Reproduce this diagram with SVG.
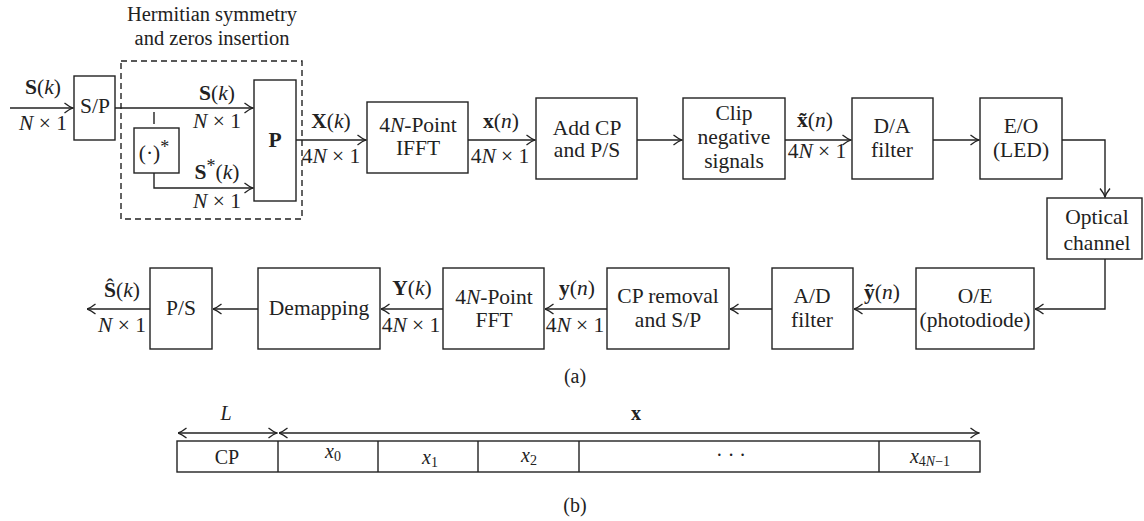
<svg xmlns="http://www.w3.org/2000/svg" width="1144" height="521" viewBox="0 0 1144 521">
<defs>
<marker id="arr" viewBox="0 0 10 12" refX="9.5" refY="6" markerWidth="10" markerHeight="12" markerUnits="userSpaceOnUse" orient="auto-start-reverse">
<path d="M1,1 Q6,5 9.5,6 Q6,7 1,11" fill="none" stroke="#222" stroke-width="1.3"/>
</marker>
</defs>
<style>
text{font-family:"Liberation Serif","Times New Roman",serif;font-size:21.5px;fill:#222;text-anchor:middle}
.box{fill:#fff;stroke:#222;stroke-width:1.4}
.c{fill:none;stroke:#222;stroke-width:1.4}
.a{marker-end:url(#arr)}
.d{marker-start:url(#arr);marker-end:url(#arr)}
.dash{fill:none;stroke:#222;stroke-width:1.4;stroke-dasharray:6,4}
.b{font-weight:bold}
.i{font-style:italic}
.s{font-size:20px}
.sub{font-size:14px}
.t{font-size:20.5px}
</style>

<g id="hermitian">
<rect class="dash" x="121" y="61" width="181" height="158"/>
<text class="t" x="212" y="21">Hermitian symmetry</text>
<text class="t" x="212" y="45">and zeros insertion</text>
</g>

<g id="sp"><rect class="box" x="74" y="76" width="41" height="64"/><text x="95" y="113">S/P</text></g>
<g id="conj"><rect class="box" x="134" y="128" width="45" height="45"/><text x="154" y="160">(·)<tspan dy="-7" font-size="18">*</tspan></text></g>
<g id="p"><rect class="box" x="254" y="80" width="42" height="121"/><text class="b" x="275" y="147">P</text></g>
<g id="ifft"><rect class="box" x="367" y="102" width="101" height="71"/><text x="418" y="132">4<tspan class="i">N</tspan>-Point</text><text x="418" y="155">IFFT</text></g>
<g id="addcp"><rect class="box" x="536" y="98" width="101" height="81"/><text x="587" y="135">Add CP</text><text x="587" y="157">and P/S</text></g>
<g id="clip"><rect class="box" x="683" y="98" width="102" height="81"/><text x="734" y="120">Clip</text><text x="734" y="144">negative</text><text x="734" y="168">signals</text></g>
<g id="da"><rect class="box" x="852" y="98" width="81" height="81"/><text x="892" y="133">D/A</text><text x="892" y="157">filter</text></g>
<g id="eo"><rect class="box" x="980" y="98" width="82" height="81"/><text x="1021" y="133">E/O</text><text x="1021" y="157">(LED)</text></g>
<g id="optical"><rect class="box" x="1047" y="198" width="95" height="61"/><text x="1097" y="224">Optical</text><text x="1097" y="250">channel</text></g>
<g id="oe"><rect class="box" x="916" y="268" width="118" height="81"/><text x="975" y="303">O/E</text><text x="975" y="327">(photodiode)</text></g>
<g id="ad"><rect class="box" x="772" y="268" width="81" height="81"/><text x="812" y="303">A/D</text><text x="812" y="327">filter</text></g>
<g id="cprem"><rect class="box" x="607" y="268" width="122" height="81"/><text x="668" y="303">CP removal</text><text x="668" y="327">and S/P</text></g>
<g id="fft"><rect class="box" x="443" y="268" width="101" height="81"/><text x="494" y="304">4<tspan class="i">N</tspan>-Point</text><text x="494" y="327">FFT</text></g>
<g id="demap"><rect class="box" x="258" y="268" width="122" height="81"/><text x="319" y="315">Demapping</text></g>
<g id="ps"><rect class="box" x="150" y="268" width="62" height="81"/><text x="181" y="315">P/S</text></g>

<g id="connectors">
<path class="c a" d="M10,108 H73"/>
<path class="c a" d="M115,108 H253"/>
<path class="c" d="M154,112 V124"/>
<path class="c a" d="M154,173 V188 H253"/>
<path class="c a" d="M296,140 H366"/>
<path class="c a" d="M468,140 H535"/>
<path class="c a" d="M637,140 H682"/>
<path class="c a" d="M785,140 H851"/>
<path class="c a" d="M933,140 H979"/>
<path class="c a" d="M1062,140 H1105 V197"/>
<path class="c a" d="M1105,259 V309 H1035"/>
<path class="c a" d="M916,309 H854"/>
<path class="c a" d="M772,309 H730"/>
<path class="c a" d="M607,309 H545"/>
<path class="c a" d="M443,309 H381"/>
<path class="c a" d="M258,309 H213"/>
<path class="c a" d="M150,309 H87"/>
</g>

<g id="labels">
<text x="43" y="94"><tspan class="b">S</tspan>(<tspan class="i">k</tspan>)</text>
<text x="43" y="130"><tspan class="i">N</tspan> × 1</text>
<text x="217" y="100"><tspan class="b">S</tspan>(<tspan class="i">k</tspan>)</text>
<text x="217" y="128"><tspan class="i">N</tspan> × 1</text>
<text x="217" y="179"><tspan class="b">S</tspan><tspan dy="-7" font-size="18">*</tspan><tspan dy="7">(</tspan><tspan class="i">k</tspan>)</text>
<text x="217" y="208"><tspan class="i">N</tspan> × 1</text>
<text x="331" y="128"><tspan class="b">X</tspan>(<tspan class="i">k</tspan>)</text>
<text x="331" y="163">4<tspan class="i">N</tspan> × 1</text>
<text x="501" y="128"><tspan class="b">x</tspan>(<tspan class="i">n</tspan>)</text>
<text x="500" y="163">4<tspan class="i">N</tspan> × 1</text>
<text x="815" y="127"><tspan class="b">x&#x303;</tspan>(<tspan class="i">n</tspan>)</text>
<text x="817" y="158">4<tspan class="i">N</tspan> × 1</text>
<text x="882" y="299"><tspan class="b">ỹ</tspan>(<tspan class="i">n</tspan>)</text>
<text x="577" y="295"><tspan class="b">y</tspan>(<tspan class="i">n</tspan>)</text>
<text x="575" y="332">4<tspan class="i">N</tspan> × 1</text>
<text x="412" y="295"><tspan class="b">Y</tspan>(<tspan class="i">k</tspan>)</text>
<text x="411" y="332">4<tspan class="i">N</tspan> × 1</text>
<text x="122" y="297"><tspan class="b">Ŝ</tspan>(<tspan class="i">k</tspan>)</text>
<text x="122" y="332"><tspan class="i">N</tspan> × 1</text>
<text x="575" y="383" class="s">(a)</text>
<text x="575" y="512" class="s">(b)</text>
</g>

<g id="frame">
<rect class="box" x="177" y="441" width="803" height="31"/>
<path class="c" d="M278,441 V472 M378,441 V472 M478,441 V472 M579,441 V472 M879,441 V472"/>
<path class="c d" d="M178,433 H277"/>
<path class="c d" d="M279,433 H979"/>
<text class="i s" x="226" y="420">L</text>
<text class="b s" x="636" y="420">x</text>
<text class="s" x="227" y="464">CP</text>
<text class="s" x="333" y="458"><tspan class="i">x</tspan><tspan class="sub" dy="3">0</tspan></text>
<text class="s" x="430" y="464"><tspan class="i">x</tspan><tspan class="sub" dy="3">1</tspan></text>
<text class="s" x="529" y="462"><tspan class="i">x</tspan><tspan class="sub" dy="3">2</tspan></text>
<text class="s" x="731" y="462">· · ·</text>
<text class="s" x="930" y="463"><tspan class="i">x</tspan><tspan class="sub" dy="3">4<tspan class="i">N</tspan>−1</tspan></text>
</g>
</svg>
